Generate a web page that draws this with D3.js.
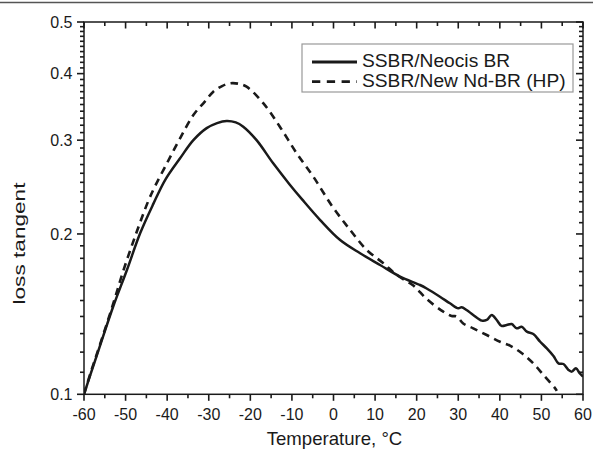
<!DOCTYPE html>
<html>
<head>
<meta charset="utf-8">
<script src="https://cdn.jsdelivr.net/npm/d3@7"></script>
<style>
  html, body { margin: 0; padding: 0; background: #fff; }
  svg { display: block; font-family: "Liberation Sans", Arial, sans-serif; }
</style>
</head>
<body>
<svg id="chart" width="593" height="452"></svg>
<script>
// ---------------- data ----------------
const seriesNames = ["SSBR/Neocis BR", "SSBR/New Nd-BR (HP)"];

const neocisT = [-60, -58, -56.2, -53, -49.7, -46.5, -43.3, -40.5, -36.9, -33.7, -30.5, -28, -25.7, -23.5, -21.7,
  -18.5, -14.5, -10.5, -7.5, -3.2, 1.6, 6.4, 11.2, 16.0, 20.8, 22.4, 25.6, 28.0, 30.0, 30.8, 32.0, 33.6,
  35.65, 36.85, 38.05, 39.25, 40.4, 41.65, 42.85, 44.05, 45.25, 46.5, 48.05, 49.7, 51.3, 52.9, 54.1, 55.3,
  56.5, 57.3, 58.3, 59.2, 60];
const neocisV = [0.100, 0.1116, 0.123, 0.146, 0.171, 0.2006, 0.228, 0.2525, 0.2774, 0.300, 0.316, 0.323, 0.326, 0.324, 0.318,
  0.300, 0.2714, 0.2475, 0.232, 0.2124, 0.1948, 0.184, 0.1749, 0.1663, 0.1604, 0.158, 0.1525, 0.1482, 0.145, 0.1457, 0.144, 0.1409,
  0.1375, 0.1379, 0.1409, 0.1379, 0.1344, 0.1349, 0.1355, 0.133, 0.1339, 0.1311, 0.1298, 0.1255, 0.122, 0.118, 0.1143, 0.114,
  0.1111, 0.1103, 0.1119, 0.1095, 0.1079];

const ndT = [-60, -58.2, -56.3, -53.2, -50.5, -47.5, -44.6, -42.9, -40, -36.9, -33.7, -31, -28.9, -26.8, -24.9, -22.9,
  -20.9, -16.9, -12.9, -8.85, -4.85, -0.4, 4.0, 8.0, 12.0, 15.2, 19.2, 22.4, 26.4, 28.4, 29.6, 31.2, 33.6, 36.85,
  40.05, 42.45, 45.3, 48.05, 50.5, 53.3, 53.7];
const ndV = [0.100, 0.111, 0.123, 0.146, 0.171, 0.200, 0.230, 0.246, 0.272, 0.3024, 0.3345, 0.354, 0.370, 0.379, 0.3836, 0.383,
  0.378, 0.352, 0.318, 0.2834, 0.2562, 0.226, 0.2035, 0.1866, 0.1762, 0.1675, 0.160, 0.151, 0.1429, 0.1403, 0.1400, 0.1358, 0.133, 0.1292,
  0.1255, 0.1234, 0.1194, 0.1143, 0.1087, 0.1026, 0.1015];

const xTicks = [-60, -50, -40, -30, -20, -10, 0, 10, 20, 30, 40, 50, 60];
const xMinorTicks = [-55, -45, -35, -25, -15, -5, 5, 15, 25, 35, 45, 55];
const yTicks = [0.1, 0.2, 0.3, 0.4, 0.5];
const yTickLabels = ["0.1", "0.2", "0.3", "0.4", "0.5"];
const yMinorTicks = d3.range(11, 50).map(d => d / 100).filter(d => !yTicks.includes(d));

const xTitle = "Temperature, °C";
const yTitle = "loss tangent";

// ---------------- layout ----------------
const svg = d3.select("#chart");
const L = 84, R = 583, T = 22, B = 394.3;
const x = d3.scaleLinear().domain([-60, 60]).range([L, R]);
const y = d3.scaleLog().domain([0.1, 0.5]).range([B, T]);
const ink = "#1a1a1a";
const font = '"Liberation Sans", Arial, sans-serif';

// top figure border line
svg.append("line").attr("x1", 0).attr("x2", 593).attr("y1", 2.5).attr("y2", 2.5)
  .attr("stroke", "#555").attr("stroke-width", 1.5);

// frame
svg.append("rect").attr("x", L).attr("y", T).attr("width", R - L).attr("height", B - T)
  .attr("fill", "none").attr("stroke", ink).attr("stroke-width", 1.5);

const tickG = svg.append("g").attr("stroke", ink).attr("stroke-width", 1.6);
function addTicks(vals, pos, len, horizontal) {
  tickG.append("g").selectAll("line").data(vals).join("line")
    .attr("x1", d => horizontal ? x(d) : pos)
    .attr("x2", d => horizontal ? x(d) : pos + len)
    .attr("y1", d => horizontal ? pos : y(d))
    .attr("y2", d => horizontal ? pos + len : y(d));
}
addTicks(xTicks, B, 6.5, true);      // bottom, outward
addTicks(xMinorTicks, B, 4, true);
addTicks(xTicks, T, 6.5, true);      // top, inward
addTicks(xMinorTicks, T, 4, true);
addTicks(yTicks, L, -7, false);      // left, outward
addTicks(yMinorTicks, L, -4, false);
addTicks(yTicks, R, -7, false);      // right, inward
addTicks(yMinorTicks, R, -4, false);

// tick labels
svg.append("g").selectAll("text").data(xTicks).join("text")
  .attr("x", d => x(d)).attr("y", 419.5).attr("text-anchor", "middle")
  .attr("fill", ink).style("font-size", "16px").style("font-family", font)
  .text(d => String(d));
svg.append("g").selectAll("text").data(yTicks).join("text")
  .attr("x", 72.5).attr("y", d => y(d)).attr("dy", "0.35em").attr("text-anchor", "end")
  .attr("fill", ink).style("font-size", "16px").style("font-family", font)
  .text((d, i) => yTickLabels[i]);

// curves
svg.append("clipPath").attr("id", "clip").append("rect")
  .attr("x", L).attr("y", T).attr("width", R - L).attr("height", B - T);
const line = d3.line().x(d => x(d[0])).y(d => y(d[1])).curve(d3.curveCatmullRom.alpha(0.5));
const neocis = neocisT.map((t, i) => [t, neocisV[i]]);
const nd = ndT.map((t, i) => [t, ndV[i]]);

svg.append("path").datum(nd).attr("d", line).attr("clip-path", "url(#clip)")
  .attr("fill", "none").attr("stroke", ink).attr("stroke-width", 2.6)
  .attr("stroke-dasharray", "7.5,5.5");
svg.append("path").datum(neocis).attr("d", line).attr("clip-path", "url(#clip)")
  .attr("fill", "none").attr("stroke", ink).attr("stroke-width", 2.5)
  .attr("stroke-linejoin", "round");

// axis titles
svg.append("text").attr("x", 334.5).attr("y", 444.5).attr("text-anchor", "middle")
  .attr("fill", ink).style("font-size", "18.6px").style("font-family", font).text(xTitle);
svg.append("text").attr("transform", "translate(24.5,243.5) rotate(-90)").attr("text-anchor", "middle")
  .attr("fill", ink).style("font-size", "17px").style("font-family", font)
  .attr("textLength", 122).attr("lengthAdjust", "spacingAndGlyphs").text(yTitle);

// legend
const lg = svg.append("g");
lg.append("rect").attr("x", 302).attr("y", 44).attr("width", 271).attr("height", 48)
  .attr("fill", "#fff").attr("stroke", "#999").attr("stroke-width", 1.2);
const rows = [{ y: 62, dash: null }, { y: 81.7, dash: "8.3,6.5" }];
rows.forEach((r, i) => {
  const l = lg.append("line").attr("x1", 312).attr("x2", 357).attr("y1", r.y).attr("y2", r.y)
    .attr("stroke", ink).attr("stroke-width", 2.8);
  if (r.dash) l.attr("stroke-dasharray", r.dash);
  lg.append("text").attr("x", 362).attr("y", r.y + 5.2 + (i ? 0.3 : 0)).attr("fill", ink)
    .style("font-size", "19.2px").style("font-family", font).text(seriesNames[i]);
});
</script>
</body>
</html>
